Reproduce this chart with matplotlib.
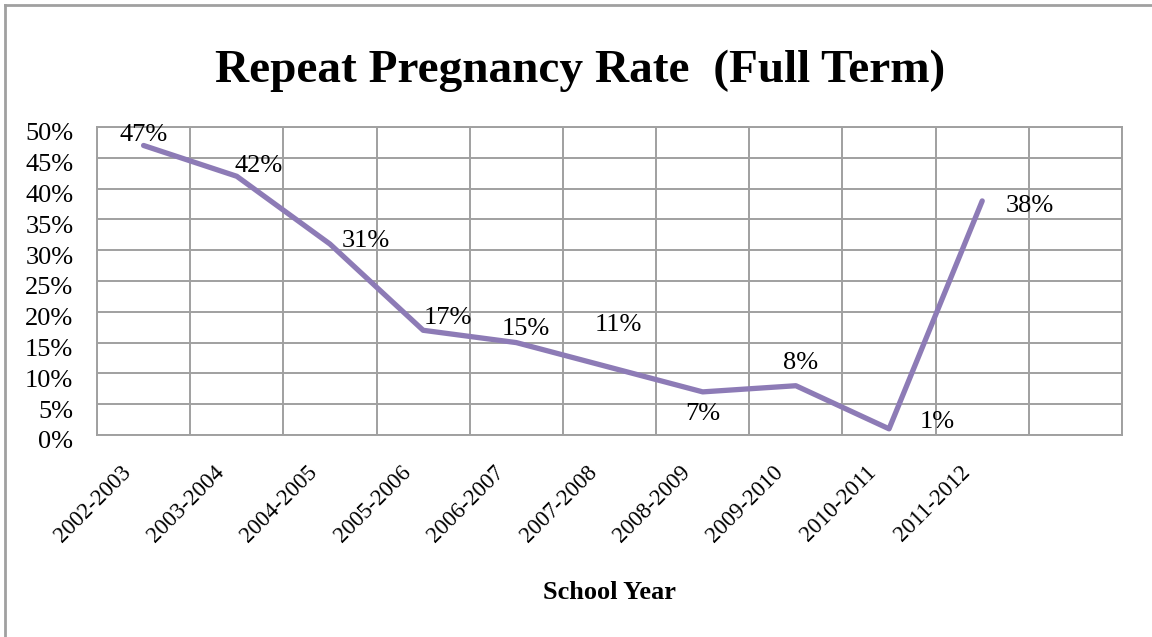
import numpy as np
import matplotlib
matplotlib.use("Agg")
import matplotlib.pyplot as plt
import matplotlib.transforms as mtransforms
from matplotlib.lines import Line2D
from matplotlib.ticker import MultipleLocator, PercentFormatter

plt.rcParams['font.family'] = ['Liberation Serif', 'DejaVu Serif']

# data
years = ["2002-2003", "2003-2004", "2004-2005", "2005-2006", "2006-2007",
         "2007-2008", "2008-2009", "2009-2010", "2010-2011", "2011-2012"]
rates = [47, 42, 31, 17, 15, 11, 7, 8, 1, 38]
labels = ["47%", "42%", "31%", "17%", "15%", "11%", "7%", "8%", "1%", "38%"]

# label offsets (pixels) relative to each point, Excel-style placement
offsets = [(0, 10), (22, 10), (36, 3), (25, 12), (9, 14),
           (9, 42), (0, -22), (5, 23), (48, 7), (48, -5)]

fig = plt.figure(figsize=(11.52, 6.37), dpi=100)
ax = fig.add_axes([97 / 1152, 1 - 435 / 637, (1122 - 97) / 1152, (435 - 127) / 637])

x = np.arange(len(years))
ax.plot(x, rates, color="#8D7BB6", lw=3.8, solid_capstyle="round", zorder=3)

for xi, yi, lab, (dx, dy) in zip(x, rates, labels, offsets):
    ax.annotate(lab, (xi, yi), xytext=(dx, dy), textcoords="offset pixels",
                ha="center", va="center", fontsize=19, zorder=4)

ax.set_xlim(-0.5, len(years) + 0.5)
ax.set_ylim(0, 50)
ax.yaxis.set_major_locator(MultipleLocator(5))
ax.yaxis.set_major_formatter(PercentFormatter(decimals=0))

# category boundaries as vertical gridlines
ax.set_xticks(np.arange(-0.5, len(years) + 1, 1), minor=True)
ax.set_xticks(x)
ax.set_xticklabels(years, rotation=45, ha="right", rotation_mode="anchor", fontsize=16.5)
ax.tick_params(axis="x", which="both", length=0, pad=19)
ax.tick_params(axis="y", length=0, pad=17, labelsize=19)
ax.grid(True, axis="y", color="#A0A0A0", lw=1.4)
ax.grid(True, axis="x", which="minor", color="#A0A0A0", lw=1.4)
ax.grid(False, axis="x", which="major")
ax.set_axisbelow(True)
for s in ax.spines.values():
    s.set_color("#A0A0A0")
    s.set_linewidth(1.4)

# nudge tick labels (after tick_params, which resets transforms)
xshift = mtransforms.ScaledTranslation(-23 / 100, 0, fig.dpi_scale_trans)
for t in ax.get_xticklabels():
    t.set_transform(t.get_transform() + xshift)
yshift = mtransforms.ScaledTranslation(0, -5 / 100, fig.dpi_scale_trans)
for t in ax.get_yticklabels():
    t.set_transform(t.get_transform() + yshift)

ax.set_xlabel("School Year", fontsize=19, fontweight="bold", labelpad=25)
fig.text(0.504, 1 - 71 / 637, "Repeat Pregnancy Rate  (Full Term)", ha="center", va="center",
         fontsize=34, fontweight="bold")

# outer frame lines (left and top only)
fig.add_artist(Line2D([5 / 1152, 5 / 1152], [0, 1 - 5 / 637], color="#A0A0A0", lw=2))
fig.add_artist(Line2D([5 / 1152, 1], [1 - 5 / 637, 1 - 5 / 637], color="#A0A0A0", lw=2))

fig.savefig("out.png", dpi=100, facecolor="white")
